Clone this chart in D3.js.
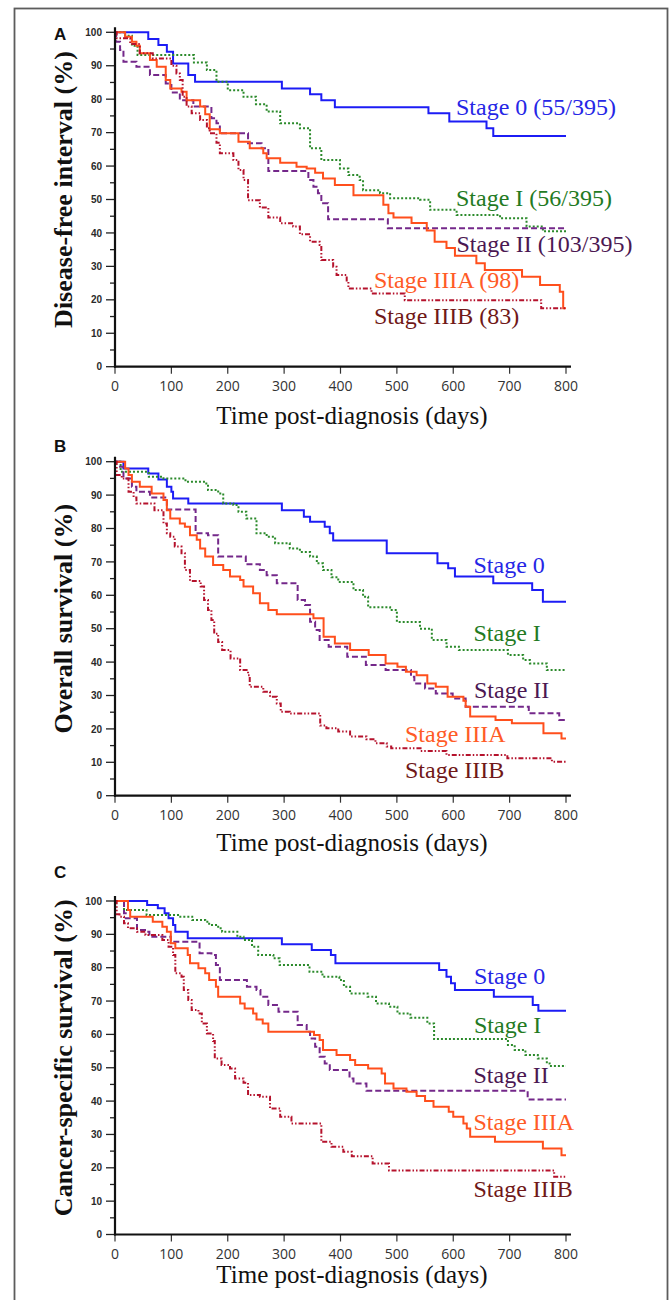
<!DOCTYPE html>
<html>
<head>
<meta charset="utf-8">
<script src="https://cdn.jsdelivr.net/npm/d3@7"></script>
<style>
  html, body { margin: 0; padding: 0; background: #fff; }
  svg { display: block; }
</style>
</head>
<body>
<div id="chart"></div>
<script>
// Kaplan-Meier curves: [day, percent]
const stageNames = ['Stage 0', 'Stage I', 'Stage II', 'Stage IIIA', 'Stage IIIB'];

// A - disease-free interval
const dfiStage0 = [[0,100],[59,98],[77,96.2],[92,94.2],[103,90.7],[130,87.2],[142,85.2],[296,83.2],[346,81.5],[366,79.7],[390,77.6],[556,75.8],[593,73.3],[659,71.3],[671,69],[800,69]];
const dfiStage1 = [[0,100],[18,99],[30,96],[40,93.2],[133,93.2],[140,91],[163,88.7],[180,85.2],[200,82.7],[228,80.7],[250,78.5],[269,76.3],[293,72.8],[328,71.3],[346,65.3],[366,61.8],[399,59.3],[414,57.3],[434,55.8],[440,52.8],[470,51.9],[488,50.4],[541,49.9],[559,46.9],[606,45.4],[683,44.4],[730,41.9],[759,40.5],[800,40.5]];
const dfiStage2 = [[0,100],[2,97.2],[9,94.7],[15,91.2],[38,89.7],[62,87.2],[90,84.7],[100,82],[115,79.7],[139,77.8],[171,74.3],[180,72.8],[186,69.8],[236,66.8],[260,65.3],[272,58.5],[343,55.8],[352,53.8],[360,51.9],[366,48.9],[378,44.1],[484,41.4],[800,41.4]];
const dfiStage3A = [[0,100],[18,98.7],[30,97.2],[38,96],[44,93.7],[62,91.7],[74,89.7],[90,85.7],[98,83.2],[118,82.2],[127,79.7],[151,77.8],[160,75.5],[168,71],[186,69.8],[219,67.3],[239,65.3],[263,63.8],[269,62.3],[293,61],[322,59.8],[340,59.3],[355,58],[369,56.3],[390,54.3],[423,51.3],[476,48.4],[485,45.9],[494,44.6],[526,43],[553,40.7],[567,37.4],[588,35.5],[603,33.2],[641,30.9],[656,28.9],[722,26.9],[754,24.4],[789,22.4],[795,17.5],[800,17.5]];
const dfiStage3B = [[0,100],[3,98.2],[27,96.5],[44,93.7],[67,92.2],[100,90],[109,87.7],[115,85.7],[120,80.7],[127,77.8],[136,75.8],[151,73.8],[163,71.3],[168,69.8],[180,67],[186,63.8],[210,61.8],[219,58.8],[228,55.8],[236,49.8],[257,47.6],[272,44.6],[293,42.9],[316,41.9],[328,39.6],[346,37.4],[363,36.4],[366,31.9],[387,29.9],[393,27.4],[411,25.4],[414,23.4],[455,21.9],[514,19.9],[756,17.5],[800,17.5]];
const dfiLabels = ['Stage 0 (55/395)', 'Stage I (56/395)', 'Stage II (103/395)', 'Stage IIIA (98)', 'Stage IIIB (83)'];

// B - overall survival
const osStage0 = [[0,100],[15,98],[59,96.5],[77,94.7],[92,92.5],[100,91],[103,89],[130,87.5],[296,85.5],[335,83.5],[346,82],[372,80.5],[381,78.6],[387,76.4],[482,72.6],[572,69.6],[591,68.1],[603,65.6],[671,63.6],[740,61.6],[759,58.1],[800,58.1]];
const osStage1 = [[0,100],[10,97],[60,95.5],[86,95],[125,94],[160,93.5],[165,91.5],[183,90.5],[192,87.5],[210,87],[219,85],[233,83],[251,78.6],[269,77.5],[284,75.6],[310,74],[328,73],[346,71.6],[358,69.6],[369,67.6],[384,65.4],[396,64],[423,61.6],[440,59.6],[449,56.4],[488,55.6],[500,52],[541,50],[562,46.6],[588,44.6],[610,43.6],[697,42.1],[724,40.6],[736,39.6],[766,37.6],[800,37.6]];
const osStage2 = [[0,100],[9,98.5],[15,95],[30,92.5],[38,91],[62,89.3],[92,85.7],[143,78.6],[165,78],[183,71.6],[232,69.3],[257,67.6],[269,66],[287,63.6],[324,58.6],[337,57.1],[346,52.1],[355,49.6],[363,46.6],[379,44.6],[412,41.6],[445,39.1],[480,37.6],[525,35.6],[531,33.6],[550,32.1],[569,30.6],[599,29.1],[622,26.6],[734,24.7],[788,22.7],[800,22.7]];
const osStage3A = [[0,100],[18,98],[24,96],[30,94],[44,92.5],[65,90.5],[86,88.5],[92,85.5],[98,83],[115,81.5],[124,80.5],[133,78],[145,76.6],[151,74],[160,71.6],[174,69.1],[192,67.6],[204,65.6],[222,64.6],[228,62.6],[245,60.6],[257,57.6],[272,55.6],[287,54.3],[352,53.1],[370,47.6],[390,45.6],[417,43.6],[450,42.1],[480,39.6],[501,38.6],[516,37.1],[535,36.1],[554,33.6],[569,32.6],[590,29.6],[618,28.4],[622,26.6],[630,23.7],[675,22.7],[704,21.7],[760,18.7],[792,17.1],[800,17.1]];
const osStage3B = [[0,100],[3,96],[12,95],[24,91],[33,89.3],[38,87.5],[70,85.5],[86,81.5],[92,78.6],[98,77.5],[106,74.6],[118,72.6],[124,67.6],[133,64.3],[152,62.6],[158,58.6],[165,55.6],[171,52.6],[176,48.5],[183,46],[190,43.6],[205,41.1],[222,37.6],[236,36.1],[239,32.6],[263,31.1],[275,29.6],[287,27.6],[294,25.1],[310,24.6],[364,21],[375,20.2],[396,19.2],[417,17.7],[446,16.9],[462,15.7],[482,14.7],[490,14.2],[542,13.4],[588,12.2],[696,11.2],[775,10.2],[800,10.2]];

// C - cancer-specific survival
const cssStage0 = [[0,100],[57,98.8],[76,97.8],[88,96.3],[95,94.8],[103,92.8],[107,90.8],[129,88.8],[296,87],[349,85.3],[383,83.8],[391,81.3],[575,79.3],[588,77.3],[596,75.3],[603,73.3],[672,71.3],[741,68.8],[751,67.1],[800,67.1]];
const cssStage1 = [[0,100],[16,97.3],[56,95.8],[114,95.3],[137,94.3],[160,93.8],[167,92.8],[183,91.8],[190,90.8],[217,89.3],[228,88.3],[243,86.3],[254,83.8],[281,82.8],[292,80.8],[345,78.8],[368,77.3],[398,76.3],[406,74.3],[417,72.3],[448,71.3],[463,69.3],[486,68.3],[501,66.3],[524,65],[554,63.3],[566,58.6],[697,56.8],[709,55.3],[728,53.8],[750,52.8],[766,51.3],[771,50.5],[800,50.5]];
const cssStage2 = [[0,100],[16,96.3],[19,94.8],[39,91.3],[57,90.8],[61,89.3],[99,87.8],[150,84.3],[171,83.8],[179,80.8],[186,76.3],[234,74.3],[251,73.3],[258,71.3],[272,68.8],[290,66.8],[324,62.8],[340,60.8],[346,58.8],[355,56.3],[363,53.3],[372,51.3],[381,49.3],[416,46.8],[423,45.3],[446,43.1],[732,40.5],[800,40.5]];
const cssStage3A = [[0,100],[23,97.3],[27,95.3],[67,93.8],[84,92.3],[92,90.8],[99,87.3],[107,85.8],[129,83.8],[133,81.3],[148,79.8],[160,78.3],[167,76.3],[179,74.3],[183,71.3],[222,69.3],[230,67.8],[245,66.3],[251,64.5],[262,63.3],[272,60.8],[353,59.8],[363,58.3],[369,55.3],[393,53.8],[417,52.3],[426,50.8],[449,49.8],[473,48.3],[479,45.3],[494,43.8],[517,42.8],[535,41.5],[550,40],[565,38.3],[592,36.8],[600,35.3],[618,33.3],[624,31.8],[630,29.3],[674,27.8],[759,25.8],[792,23.8],[800,23.8]];
const cssStage3B = [[0,100],[3,96],[8,95.3],[16,93.3],[23,91.8],[39,90.8],[54,89.8],[84,88.3],[95,86.3],[103,83.8],[107,78.3],[118,77.3],[122,73.3],[130,70.3],[136,67.3],[148,66.3],[154,63.3],[163,60.3],[174,58],[177,52.8],[189,50.8],[204,49.8],[213,46.8],[228,45.5],[236,41.8],[257,41.3],[275,37.8],[293,35.3],[313,33.3],[366,27.8],[384,26.3],[405,24.8],[420,23.5],[457,21.3],[486,19.2],[779,17.3],[800,17.3]];

const xTicks = [0, 100, 200, 300, 400, 500, 600, 700, 800];
const yTicks = [0, 10, 20, 30, 40, 50, 60, 70, 80, 90, 100];
const yMinorTicks = [5, 15, 25, 35, 45, 55, 65, 75, 85, 95];

// line styles per stage (same order as stageNames)
const lineColors  = ['#1c1cf5', '#2b8a2b', '#74288a', '#ff4f1c', '#b5122c'];
const labelColors = ['#2626e6', '#237a23', '#4b1752', '#ff5b26', '#701818'];
const lineDash    = [null, '2,2', '6,3', null, '5,2,1.5,2,1.5,2'];

const W = 669, H = 1300;
const svg = d3.select('#chart').append('svg')
  .attr('width', W).attr('height', H)
  .attr('viewBox', `0 0 ${W} ${H}`);

// outer frame
svg.append('rect')
  .attr('x', 14.5).attr('y', 8.5)
  .attr('width', 653).attr('height', 1320)
  .attr('fill', 'none').attr('stroke', '#5c5c5c').attr('stroke-width', 1.8);

const serif = '"Liberation Serif", "Times New Roman", serif';
const sans  = '"Liberation Sans", Arial, sans-serif';

function drawPanel(p) {
  const x = d3.scaleLinear().domain([0, 800]).range([115, 566]);
  const y = d3.scaleLinear().domain([0, 100]).range([p.bottom, p.top]);
  const g = svg.append('g');

  // panel letter
  g.append('text')
    .attr('x', 54).attr('y', p.letterY)
    .attr('font-family', sans).attr('font-weight', 'bold')
    .attr('font-size', 17).attr('fill', '#111')
    .text(p.letter);

  // y ticks
  g.selectAll('.ymaj').data(yTicks).join('line')
    .attr('x1', 106).attr('x2', 115)
    .attr('y1', d => y(d)).attr('y2', d => y(d))
    .attr('stroke', '#222').attr('stroke-width', 1.3);
  g.selectAll('.ymin').data(yMinorTicks).join('line')
    .attr('x1', 110).attr('x2', 115)
    .attr('y1', d => y(d)).attr('y2', d => y(d))
    .attr('stroke', '#222').attr('stroke-width', 1.3);
  g.selectAll('.ylab').data(yTicks).join('text')
    .attr('x', 102).attr('y', d => y(d) + 3.6)
    .attr('text-anchor', 'end')
    .attr('font-family', sans).attr('font-weight', 'bold')
    .attr('font-size', 10).attr('fill', '#2a2a2a')
    .text(d => d);

  // x ticks
  g.selectAll('.xt').data(xTicks).join('line')
    .attr('x1', d => x(d)).attr('x2', d => x(d))
    .attr('y1', p.bottom).attr('y2', p.bottom + 7)
    .attr('stroke', '#333').attr('stroke-width', 1.2);
  g.selectAll('.xlab').data(xTicks).join('text')
    .attr('x', d => x(d)).attr('y', p.bottom + 24)
    .attr('text-anchor', 'middle')
    .attr('font-family', '"Open Sans", sans-serif')
    .attr('font-size', 14).attr('fill', '#333')
    .text(d => d);

  // curves
  const line = d3.line()
    .x(d => x(d[0])).y(d => y(d[1]))
    .curve(d3.curveStepAfter);
  p.series.forEach((s, i) => {
    g.append('path')
      .attr('d', line(s))
      .attr('fill', 'none')
      .attr('stroke', lineColors[i])
      .attr('stroke-width', 2)
      .attr('stroke-dasharray', lineDash[i]);
  });

  // axes lines
  g.append('line')
    .attr('x1', 115).attr('x2', 115)
    .attr('y1', p.top - 5).attr('y2', p.bottom + 1)
    .attr('stroke', '#111').attr('stroke-width', 2.2);
  g.append('line')
    .attr('x1', 114).attr('x2', 571)
    .attr('y1', p.bottom).attr('y2', p.bottom)
    .attr('stroke', '#111').attr('stroke-width', 2.2);

  // stage labels
  p.labels.forEach((t, i) => {
    g.append('text')
      .attr('x', p.labelX[i]).attr('y', p.labelY[i])
      .attr('font-family', serif).attr('font-size', 24)
      .attr('fill', labelColors[i])
      .text(t);
  });

  // axis titles
  g.append('text')
    .attr('transform', `translate(72,${(p.top + p.bottom) / 2 - 10}) rotate(-90)`)
    .attr('text-anchor', 'middle')
    .attr('font-family', serif).attr('font-weight', 'bold')
    .attr('font-size', 26).attr('fill', '#111')
    .text(p.yTitle);
  g.append('text')
    .attr('x', 352).attr('y', p.xTitleY)
    .attr('text-anchor', 'middle')
    .attr('font-family', serif).attr('font-size', 25).attr('fill', '#111')
    .text('Time post-diagnosis (days)');
}

drawPanel({
  letter: 'A', letterY: 40, top: 32.3, bottom: 366.7, xTitleY: 424,
  yTitle: 'Disease-free interval (%)',
  series: [dfiStage0, dfiStage1, dfiStage2, dfiStage3A, dfiStage3B],
  labels: dfiLabels,
  labelX: [456, 456, 456.5, 374, 374],
  labelY: [115, 205.5, 251.5, 288, 324]
});

drawPanel({
  letter: 'B', letterY: 452, top: 461.7, bottom: 795.7, xTitleY: 851,
  yTitle: 'Overall survival (%)',
  series: [osStage0, osStage1, osStage2, osStage3A, osStage3B],
  labels: stageNames,
  labelX: [473.5, 473.5, 474, 405, 405],
  labelY: [572.5, 640.5, 698, 741.5, 778]
});

drawPanel({
  letter: 'C', letterY: 878, top: 901, bottom: 1234.5, xTitleY: 1283,
  yTitle: 'Cancer-specific survival (%)',
  series: [cssStage0, cssStage1, cssStage2, cssStage3A, cssStage3B],
  labels: stageNames,
  labelX: [474, 474, 473.5, 473.5, 473.5],
  labelY: [984, 1033, 1083, 1130, 1196.5]
});
</script>
</body>
</html>
